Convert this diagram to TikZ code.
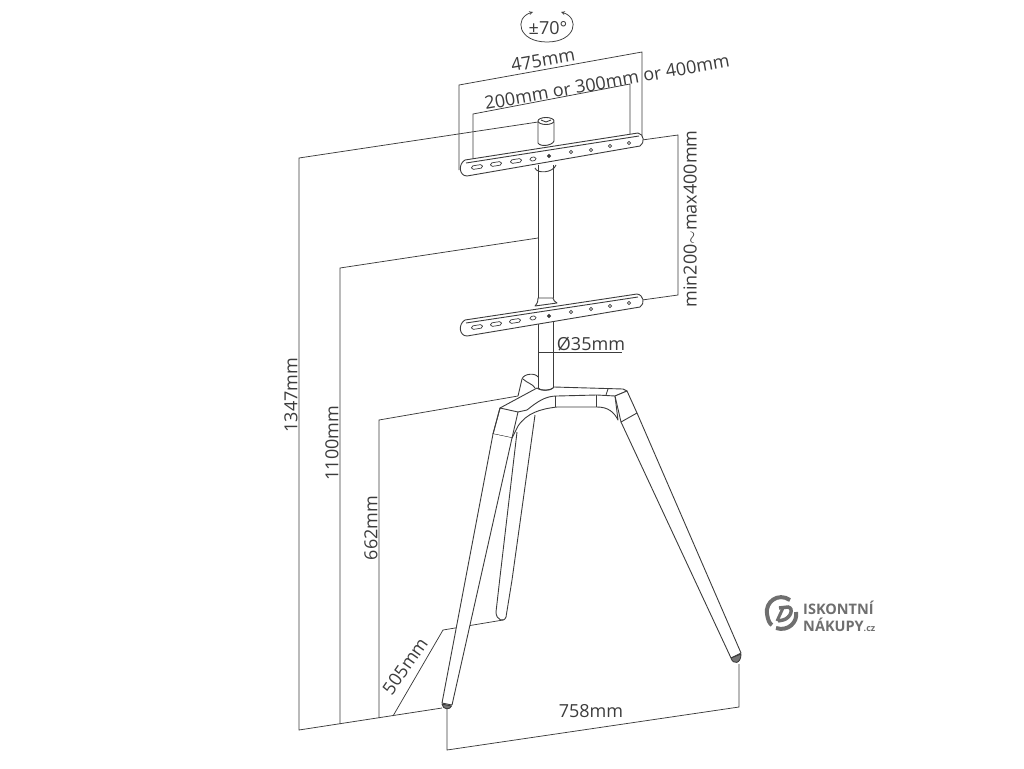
\documentclass[tikz,border=0pt]{standalone}
\usepackage{fontspec}
\setmainfont{Open Sans}
\newfontfamily\logofont{Open Sans}
\usepackage{tikz}
\definecolor{inkline}{HTML}{3C3C3C}
\definecolor{logogray}{HTML}{6F6F6F}
\tikzset{
    dimline/.style={inkline, line width=0.75pt},
    body/.style={inkline, line width=0.9pt, line join=round},
    label/.style={inkline, font=\fontsize{18}{18}\selectfont, inner sep=0pt},
    slot/.style={shape=rectangle, rounded corners=1.6pt, draw=inkline, line width=0.7pt, minimum width=11pt, minimum height=3.6pt, inner sep=0pt, rotate=9},
    hole/.style={shape=circle, draw=inkline, line width=0.7pt, minimum size=3.4pt, inner sep=0pt},
    logotext/.style={logogray, font=\logofont\bfseries\fontsize{14.5}{14.5}\selectfont, inner sep=0pt, anchor=west}
}
\begin{document}
\begin{tikzpicture}[x=1pt, y=-1pt]
        \useasboundingbox (0, 0) rectangle (1024, 768);

        % dimension points
        \coordinate (H1) at (299, 158);
        \coordinate (H2) at (538, 122);
        \coordinate (H3) at (299, 730);
        \coordinate (F1) at (442, 708);
        \coordinate (T1) at (340, 268);
        \coordinate (T2) at (538, 238);
        \coordinate (T3) at (340, 724);
        \coordinate (G1) at (379, 420);
        \coordinate (G2) at (518, 396);
        \coordinate (G3) at (379, 718);
        \coordinate (B1) at (393, 716);
        \coordinate (B2) at (443, 630);
        \coordinate (B3) at (503, 620);
        \coordinate (W1) at (459, 170);
        \coordinate (W2) at (459, 85);
        \coordinate (W3) at (642, 52);
        \coordinate (W4) at (642, 140);
        \coordinate (V1) at (473, 160);
        \coordinate (V2) at (473, 114);
        \coordinate (V3) at (630, 84);
        \coordinate (V4) at (630, 135);
        \coordinate (M1) at (642, 140);
        \coordinate (M2) at (678, 135);
        \coordinate (M3) at (678, 295);
        \coordinate (M4) at (642, 300);
        \coordinate (D1) at (538, 352);
        \coordinate (D2) at (622, 352);
        \coordinate (L1) at (447, 708);
        \coordinate (L2) at (447, 750);
        \coordinate (L3) at (739, 707);
        \coordinate (L4) at (739, 664);

        \draw[dimline] (H2) -- (H1) -- (H3) -- (F1);
        \draw[dimline] (T2) -- (T1) -- (T3);
        \draw[dimline] (G2) -- (G1) -- (G3);
        \draw[dimline] (B1) -- (B2) -- (B3);
        \draw[dimline] (W1) -- (W2) -- (W3) -- (W4);
        \draw[dimline] (V1) -- (V2) -- (V3) -- (V4);
        \draw[dimline] (M1) -- (M2) -- (M3) -- (M4);
        \draw[dimline] (D1) -- (D2);
        \draw[dimline] (L1) -- (L2) -- (L3) -- (L4);

        % turning arrow
        \draw[dimline, <->, >=stealth] (533, 12) .. controls (514, 18) and (518, 42) .. (547, 42) .. controls (576, 42) and (580, 18) .. (561, 12);

        % pole
        \draw[body] (538, 165) -- (538, 298);
        \draw[body] (553, 165) -- (553, 298);
        \draw[body] (538, 316) -- (538, 388);
        \draw[body] (553, 316) -- (553, 388);

        % top bracket
        \draw[body, fill=white] (465, 160) -- (638, 133) .. controls (644, 134) and (645, 143) .. (640, 146) -- (467, 176) .. controls (459, 176) and (458, 164) .. (465, 160);
        \draw[body] (466, 163) -- (639, 136);
        \draw[body] (535, 168) .. controls (537, 174) and (553, 173) .. (556, 165);
        \draw[body, fill=white] (538, 122) -- (538, 143) .. controls (540, 147) and (552, 146) .. (554, 141) -- (554, 122);
        \draw[body, fill=white] (546, 121) ellipse [x radius=8, y radius=3.5];
        \draw[body] (541, 120) -- (546, 122) -- (551, 120);

        % lower bracket
        \draw[body, fill=white] (465, 320) -- (637, 294) .. controls (644, 295) and (645, 304) .. (640, 307) -- (467, 336) .. controls (459, 336) and (458, 324) .. (465, 320);
        \draw[body] (466, 323) -- (638, 297);
        \draw[body, fill=white] (535, 306) .. controls (538, 303) and (538, 300) .. (538, 298) -- (553, 298) .. controls (553, 300) and (555, 302) .. (557, 303) -- cycle;

        % top bracket holes
        \node[slot] (TS1) at (477, 167) {};
        \node[slot] (TS2) at (496, 164) {};
        \node[slot] (TS3) at (516, 161) {};
        \node[slot, minimum width=6pt] (TS4) at (533, 159) {};
        \node[hole, fill=inkline] (TH1) at (549, 156) {};
        \node[hole] (TH2) at (571, 152) {};
        \node[hole] (TH3) at (591, 150) {};
        \node[hole] (TH4) at (610, 146) {};
        \node[hole] (TH5) at (629, 143) {};

        % lower bracket holes
        \node[slot] (LS1) at (477, 327) {};
        \node[slot] (LS2) at (496, 324) {};
        \node[slot] (LS3) at (515, 321) {};
        \node[slot, minimum width=6pt] (LS4) at (533, 318) {};
        \node[hole, fill=inkline] (LH1) at (549, 316) {};
        \node[hole] (LH2) at (571, 312) {};
        \node[hole] (LH3) at (591, 309) {};
        \node[hole] (LH4) at (610, 306) {};
        \node[hole] (LH5) at (629, 303) {};

        % back leg
        \draw[body] (517, 432) -- (500, 577) -- (496, 612) .. controls (496, 620) and (504, 623) .. (506, 617) -- (512, 580) -- (535, 415);

        % knob behind the head
        \draw[body] (518, 396) -- (522, 379) .. controls (524, 373) and (536, 373) .. (538, 377);
        \draw[body] (523, 379) .. controls (527, 383) and (533, 384) .. (535, 388);

        % head
        \draw[body, fill=white] (500, 408) -- (537, 388) .. controls (540, 391) and (551, 391) .. (554, 387) -- (623, 389) -- (627, 391) -- (615, 396) -- (618, 420) .. controls (614, 412) and (608, 407) .. (597, 407) -- (557, 407) .. controls (540, 409) and (527, 413) .. (518, 426) -- (512, 438) -- (493, 434) -- cycle;
        \draw[body] (518, 412) -- (527, 410) .. controls (537, 402) and (545, 396) .. (557, 396) -- (597, 395) -- (615, 396);
        \draw[body] (555, 396) -- (555, 407);
        \draw[body] (596, 395) -- (596, 407);
        \draw[body] (606, 395) -- (608, 389);
        \draw[body] (538, 388) .. controls (540, 391) and (551, 391) .. (553, 388);

        % front leg
        \draw[body] (500, 408) -- (518, 412) -- (512, 438) -- (493, 434) -- cycle;
        \draw[body, fill=white] (493, 434) -- (442, 703) -- (452, 705) -- (512, 438);
        \draw[body, fill=inkline!70] (442, 704) .. controls (443, 710) and (450, 710) .. (451.5, 706) -- cycle;

        % right leg
        \draw[body, fill=white] (615, 396) -- (627, 391) -- (637, 413) -- (621, 422) -- cycle;
        \draw[body] (621, 422) -- (731, 658);
        \draw[body] (637, 413) -- (741, 653);
        \draw[body] (731, 658) -- (741, 653);
        \draw[body, fill=inkline!70] (731, 658) .. controls (733, 665) and (741, 664) .. (741, 654) -- cycle;

        % labels
        \node[label] (Turn) at (548, 28) {±70°};
        \node[label, rotate=10] (Width) at (543, 60) {475mm};
        \node[label, rotate=10] (Spacing) at (607, 82) {200mm or 300mm or 400mm};
        \node[label, rotate=90] (Range) at (690, 219) {min200$\sim$max400mm};
        \node[label] (Pole) at (591, 344) {Ø35mm};
        \node[label, rotate=90] (Total) at (291, 395) {1347mm};
        \node[label, rotate=90] (Upper) at (332, 443) {1100mm};
        \node[label, rotate=90] (Head) at (371, 528) {662mm};
        \node[label, rotate=55] (Back) at (405, 666) {505mm};
        \node[label] (Base) at (591, 711) {758mm};

        % logo
        \draw[logogray, line width=4pt] (790, 600) .. controls (778, 592) and (765, 602) .. (767, 614) .. controls (768, 621) and (770, 624) .. (772, 625);
        \draw[logogray, line width=4pt] (776, 628) .. controls (788, 632) and (798, 622) .. (796, 612);
        \draw[logogray, line width=3.5pt] (779, 608) -- (788, 607) .. controls (794, 608) and (791, 618) .. (783, 620) -- (778, 621);
        \draw[logogray, line width=3pt] (783, 608) -- (777, 621);
        \node[logotext] (Logo1) at (803, 608) {ISKONTNÍ};
        \node[logotext] (Logo2) at (803, 625) {NÁKUPY\fontsize{9}{9}\selectfont.cz};
    \end{tikzpicture}
\end{document}
